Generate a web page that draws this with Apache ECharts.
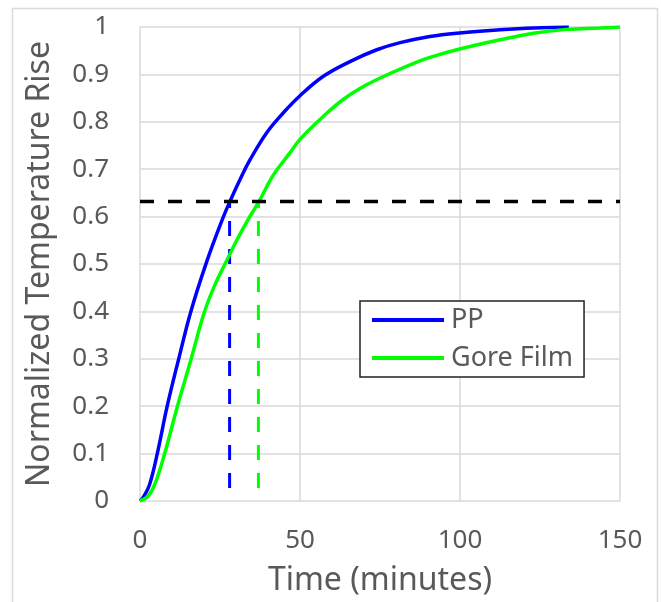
<!DOCTYPE html>
<html>
<head>
<meta charset="utf-8">
<script src="https://cdn.jsdelivr.net/npm/echarts@6/dist/echarts.min.js"></script>
<style>
  html, body { margin: 0; padding: 0; background: #fff; }
  #chart { width: 661px; height: 602px; }
</style>
</head>
<body>
<div id="chart"></div>
<script>
// Normalized temperature rise curves (time in minutes)
const ppTime = [0, 1.2, 3, 5.4, 8.5, 12.1, 15.9, 20.8, 25.5, 28.1, 31.3, 34.4, 39.6, 44.8, 50, 57.3, 65.6, 74, 81.3, 90.6, 99, 112.5, 123, 134];
const ppRise = [0, 0.01, 0.035, 0.1, 0.2, 0.3, 0.4, 0.504, 0.59, 0.632, 0.679, 0.72, 0.777, 0.819, 0.855, 0.896, 0.927, 0.952, 0.967, 0.98, 0.987, 0.994, 0.998, 1.0];

const goreTime = [0, 2.5, 4.6, 7.7, 11.7, 16, 20, 23.4, 26.8, 30, 33.9, 37.2, 41.5, 46.9, 50, 56.25, 63.5, 70.8, 79.2, 86.5, 90.6, 99, 112.5, 123, 133.3, 143.75, 150];
const goreRise = [0, 0.01, 0.035, 0.1, 0.2, 0.3, 0.396, 0.456, 0.503, 0.547, 0.595, 0.632, 0.686, 0.735, 0.763, 0.805, 0.847, 0.878, 0.905, 0.926, 0.936, 0.952, 0.973, 0.987, 0.995, 0.998, 1.0];

// Time constants (63.2 % rise) and the reference level
const tauLevel = 0.632;
const ppTau = 28;
const goreTau = 37;

const seriesNames = ['PP', 'Gore Film'];
const xTicks = [0, 50, 100, 150];

const pairs = (xs, ys) => xs.map((x, i) => [x, ys[i]]);

const FONT = '"Noto Sans", sans-serif';
const TEXT = '#595959';

const chart = echarts.init(document.getElementById('chart'), null, { renderer: 'canvas' });

chart.setOption({
  animation: false,
  backgroundColor: '#fff',
  graphic: [{
    type: 'rect',
    shape: { x: 12.5, y: 8.5, width: 645, height: 610 },
    style: { fill: 'none', stroke: '#d9d9d9', lineWidth: 1.5 },
    silent: true, z: -10
  }],
  grid: { left: 140, right: 41, top: 27, bottom: 100, containLabel: false },
  legend: {
    data: seriesNames,
    orient: 'vertical',
    left: 360, top: 301,
    icon: 'rect',
    itemWidth: 72, itemHeight: 4,
    itemGap: 0,
    padding: [0, 11, 0, 12],
    backgroundColor: '#fff',
    borderColor: '#222',
    borderWidth: 1.5,
    borderRadius: 0,
    textStyle: { fontFamily: FONT, fontSize: 27, color: TEXT, lineHeight: 38, padding: [0, 0, 0, 2] }
  },
  xAxis: {
    type: 'value', min: 0, max: 150, interval: 50,
    axisLine: { show: false }, axisTick: { show: false },
    splitLine: { show: true, lineStyle: { color: '#d9d9d9', width: 1.5 } },
    axisLabel: {
      margin: 27, fontFamily: FONT, fontSize: 26, color: TEXT,
      formatter: v => String(v)
    },
    name: 'Time (minutes)', nameLocation: 'middle', nameGap: 64,
    nameTextStyle: { fontFamily: FONT, fontSize: 32, color: TEXT }
  },
  yAxis: {
    type: 'value', min: 0, max: 1, interval: 0.1,
    axisLine: { show: false }, axisTick: { show: false },
    splitLine: { show: true, lineStyle: { color: '#d9d9d9', width: 1.5 } },
    axisLabel: {
      margin: 31, fontFamily: FONT, fontSize: 26, color: TEXT,
      formatter: v => String(Math.round(v * 10) / 10)
    },
    name: 'Normalized Temperature Rise', nameLocation: 'middle', nameGap: 84,
    nameRotate: 90,
    nameTextStyle: { fontFamily: FONT, fontSize: 32, color: TEXT }
  },
  series: [
    {
      name: 'PP', type: 'line', data: pairs(ppTime, ppRise),
      showSymbol: false, smooth: 0.4,
      lineStyle: { color: '#0000ff', width: 3.5 }, itemStyle: { color: '#0000ff' }, z: 3
    },
    {
      name: 'Gore Film', type: 'line', data: pairs(goreTime, goreRise),
      showSymbol: false, smooth: 0.4,
      lineStyle: { color: '#00ff00', width: 3.5 }, itemStyle: { color: '#00ff00' }, z: 3
    },
    {
      name: 'tau-level', type: 'line', silent: true, showSymbol: false,
      data: [[xTicks[0], tauLevel], [xTicks[xTicks.length - 1], tauLevel]],
      lineStyle: { color: '#000', width: 3.5, type: [14, 14] }, z: 4
    },
    {
      name: 'pp-tau', type: 'line', silent: true, showSymbol: false,
      data: [[ppTau, 0], [ppTau, tauLevel]],
      lineStyle: { color: '#0000ff', width: 3, type: [15, 13], dashOffset: 15 }, z: 2
    },
    {
      name: 'gore-tau', type: 'line', silent: true, showSymbol: false,
      data: [[goreTau, 0], [goreTau, tauLevel]],
      lineStyle: { color: '#00ff00', width: 3, type: [15, 13], dashOffset: 15 }, z: 2
    }
  ]
});
</script>
</body>
</html>
